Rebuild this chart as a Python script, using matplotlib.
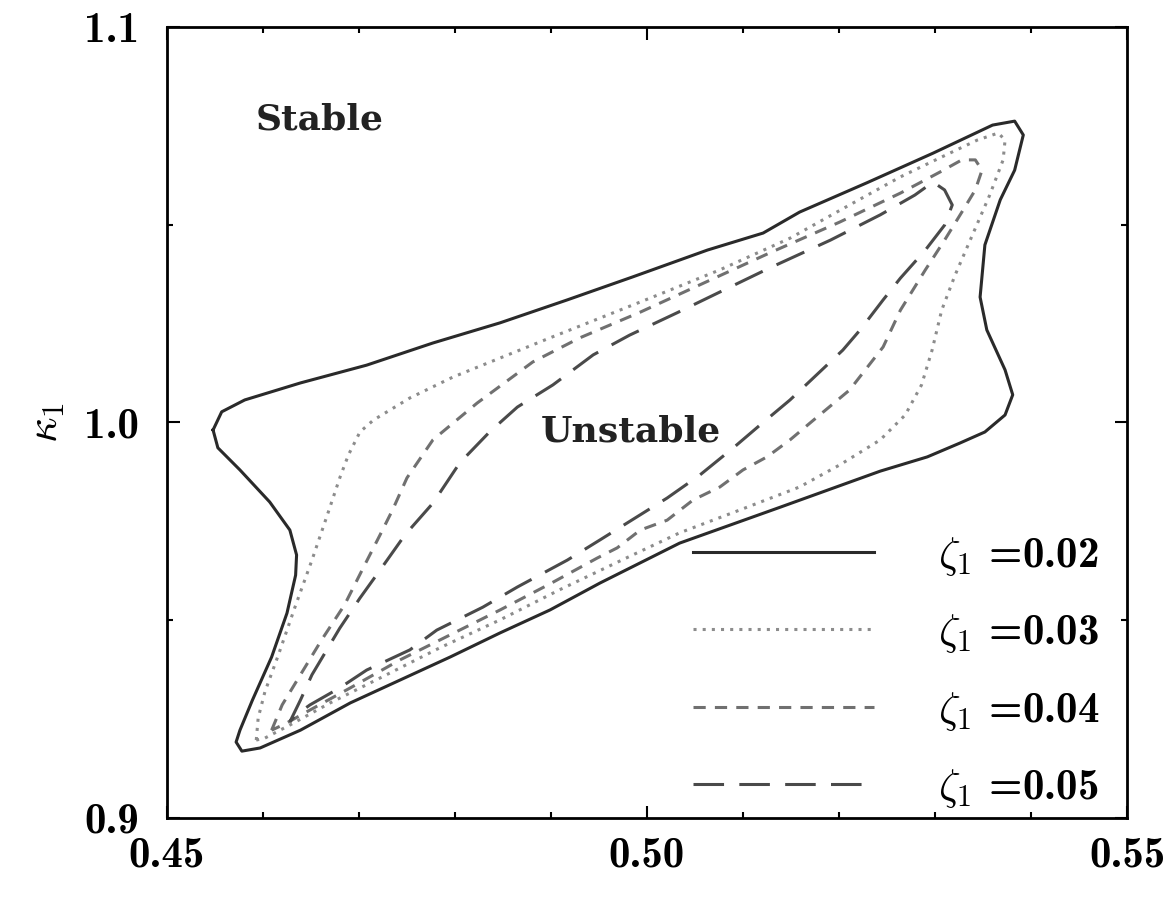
"""Stability boundaries in the (x, kappa_1) plane for several damping ratios."""
import matplotlib
matplotlib.use("Agg")
import matplotlib.pyplot as plt
from matplotlib.ticker import FixedLocator, MultipleLocator

plt.rcParams.update({"mathtext.fontset": "cm", "font.size": 28})
SERIF = ["cmb10", "DejaVu Serif"]

# zeta_1 = 0.02 (outer boundary)
x02 = [0.4548, 0.4557, 0.4581, 0.4639, 0.4708, 0.4777, 0.4847, 0.4917, 0.4985, 0.5063,
       0.5121, 0.5159, 0.5229, 0.5298, 0.5360, 0.5383, 0.5392, 0.5383, 0.5368, 0.5352,
       0.5347, 0.5354, 0.5373, 0.5381, 0.5373, 0.5352, 0.5326, 0.5292, 0.5243, 0.5139,
       0.5034, 0.4951, 0.4899, 0.4847, 0.4795, 0.4743, 0.4691, 0.4639, 0.4597, 0.4578,
       0.4572, 0.4576, 0.4589, 0.4609, 0.4625, 0.4634, 0.4635, 0.4628, 0.4607, 0.4576,
       0.4553, 0.4548]
y02 = [0.9981, 1.0027, 1.0057, 1.0100, 1.0145, 1.0201, 1.0252, 1.0310, 1.0368, 1.0436,
       1.0479, 1.0532, 1.0606, 1.0681, 1.0752, 1.0762, 1.0727, 1.0638, 1.0563, 1.0449,
       1.0317, 1.0234, 1.0133, 1.0070, 1.0019, 0.9976, 0.9948, 0.9913, 0.9877, 0.9786,
       0.9695, 0.9594, 0.9526, 0.9468, 0.9407, 0.9349, 0.9291, 0.9222, 0.9177, 0.9169,
       0.9192, 0.9222, 0.9298, 0.9407, 0.9518, 0.9614, 0.9665, 0.9728, 0.9799, 0.9880,
       0.9936, 0.9981]

# zeta_1 = 0.03
x03 = [0.4593, 0.4595, 0.4602, 0.4616, 0.4633, 0.4651, 0.4667, 0.4680, 0.4689, 0.4701,
       0.4715, 0.4753, 0.4798, 0.4847, 0.4899, 0.4951, 0.5014, 0.5076, 0.5149, 0.5211,
       0.5264, 0.5305, 0.5344, 0.5366, 0.5373, 0.5371, 0.5357, 0.5339, 0.5321, 0.5307,
       0.5297, 0.5286, 0.5269, 0.5243, 0.5201, 0.5159, 0.5097, 0.5034, 0.4972, 0.4909,
       0.4847, 0.4784, 0.4722, 0.4670, 0.4628, 0.4602, 0.4593]
y03 = [0.9197, 0.9253, 0.9319, 0.9412, 0.9531, 0.9652, 0.9766, 0.9860, 0.9918, 0.9976,
       1.0006, 1.0062, 1.0115, 1.0163, 1.0214, 1.0264, 1.0325, 1.0386, 1.0466, 1.0550,
       1.0621, 1.0669, 1.0714, 1.0732, 1.0714, 1.0664, 1.0575, 1.0474, 1.0373, 1.0284,
       1.0183, 1.0095, 1.0019, 0.9956, 0.9893, 0.9837, 0.9779, 0.9721, 0.9650, 0.9577,
       0.9501, 0.9430, 0.9354, 0.9291, 0.9235, 0.9202, 0.9197]

# zeta_1 = 0.04
x04 = [0.4609, 0.4620, 0.4639, 0.4661, 0.4685, 0.4706, 0.4722, 0.4735, 0.4750, 0.4777,
       0.4823, 0.4881, 0.4930, 0.4993, 0.5055, 0.5128, 0.5201, 0.5264, 0.5305, 0.5328,
       0.5342, 0.5349, 0.5342, 0.5328, 0.5310, 0.5290, 0.5264, 0.5246, 0.5211, 0.5170,
       0.5149, 0.5125, 0.5100, 0.5076, 0.5048, 0.5021, 0.4993, 0.4969, 0.4948, 0.4899,
       0.4847, 0.4795, 0.4743, 0.4691, 0.4649, 0.4623, 0.4609]
y04 = [0.9222, 0.9286, 0.9362, 0.9450, 0.9539, 0.9640, 0.9716, 0.9779, 0.9860, 0.9956,
       1.0049, 1.0153, 1.0214, 1.0279, 1.0348, 1.0429, 1.0507, 1.0580, 1.0633, 1.0664,
       1.0664, 1.0638, 1.0588, 1.0532, 1.0461, 1.0386, 1.0284, 1.0191, 1.0082, 0.9999,
       0.9956, 0.9913, 0.9880, 0.9837, 0.9804, 0.9753, 0.9728, 0.9683, 0.9657, 0.9592,
       0.9526, 0.9463, 0.9400, 0.9329, 0.9273, 0.9238, 0.9222]

# zeta_1 = 0.05 (innermost)
x05 = [0.4628, 0.4639, 0.4651, 0.4680, 0.4701, 0.4722, 0.4748, 0.4777, 0.4805, 0.4836,
       0.4865, 0.4902, 0.4944, 0.4982, 0.5031, 0.5076, 0.5128, 0.5191, 0.5243, 0.5279,
       0.5298, 0.5310, 0.5318, 0.5310, 0.5290, 0.5264, 0.5246, 0.5222, 0.5204, 0.5180,
       0.5149, 0.5118, 0.5090, 0.5055, 0.5021, 0.4988, 0.4951, 0.4917, 0.4865, 0.4829,
       0.4781, 0.4753, 0.4708, 0.4680, 0.4649, 0.4633, 0.4628]
y05 = [0.9243, 0.9298, 0.9362, 0.9480, 0.9556, 0.9627, 0.9716, 0.9796, 0.9898, 0.9976,
       1.0039, 1.0095, 1.0171, 1.0221, 1.0277, 1.0330, 1.0391, 1.0461, 1.0525, 1.0575,
       1.0608, 1.0588, 1.0550, 1.0499, 1.0436, 1.0365, 1.0310, 1.0234, 1.0183, 1.0128,
       1.0057, 0.9994, 0.9936, 0.9867, 0.9809, 0.9759, 0.9703, 0.9652, 0.9584, 0.9533,
       0.9475, 0.9425, 0.9374, 0.9329, 0.9286, 0.9258, 0.9243]

labels = [r"$\zeta_1$ =0.02", r"$\zeta_1$ =0.03", r"$\zeta_1$ =0.04", r"$\zeta_1$ =0.05"]
xticks = [0.45, 0.50, 0.55]
xticklabels = ["0.45", "0.50", "0.55"]
yticks = [0.9, 1.0, 1.1]
yticklabels = ["0.9", "1.0", "1.1"]

fig = plt.figure(figsize=(11.71, 8.97), dpi=100)
ax = fig.add_axes([0.1426, 0.0881, 0.8198, 0.8818])

ax.plot(x02, y02, color="#2a2a2a", lw=2.2, ls="-", label=labels[0])
ax.plot(x03, y03, color="#8c8c8c", lw=2.2, ls=(0, (1, 2)), label=labels[1])
ax.plot(x04, y04, color="#707070", lw=2.2, ls=(0, (4, 3)), label=labels[2])
ax.plot(x05, y05, color="#4a4a4a", lw=2.2, ls=(0, (10, 5)), label=labels[3])

ax.text(0.4659, 1.0765, "Stable", ha="center", va="center", fontsize=26,
        family="DejaVu Serif", weight="bold", color="#222222")
ax.text(0.4983, 0.9976, "Unstable", ha="center", va="center", fontsize=26,
        family="DejaVu Serif", weight="bold", color="#222222")

ax.set_xlim(0.45, 0.55)
ax.set_ylim(0.9, 1.1)
ax.xaxis.set_major_locator(FixedLocator(xticks))
ax.set_xticklabels(xticklabels)
ax.xaxis.set_minor_locator(MultipleLocator(0.01))
ax.yaxis.set_major_locator(FixedLocator(yticks))
ax.set_yticklabels(yticklabels)
ax.yaxis.set_minor_locator(MultipleLocator(0.05))
ax.tick_params(which="both", direction="in", top=True, right=True, width=1.5,
               labelsize=31, labelfontfamily="cmb10")
ax.tick_params(which="major", length=9)
ax.tick_params(which="minor", length=4.5)
ax.tick_params(axis="x", pad=13)
ax.tick_params(axis="y", pad=20)
for s in ax.spines.values():
    s.set_linewidth(2)

ax.set_ylabel(r"$\kappa_1$", fontsize=32, labelpad=12)

ax.legend(loc="lower right", bbox_to_anchor=(0.972, 0.01), frameon=False,
          prop={"family": SERIF, "size": 31}, handlelength=4.2,
          handletextpad=1.5, labelspacing=0.8, borderpad=0, borderaxespad=0)

fig.savefig("out.png", dpi=100)
